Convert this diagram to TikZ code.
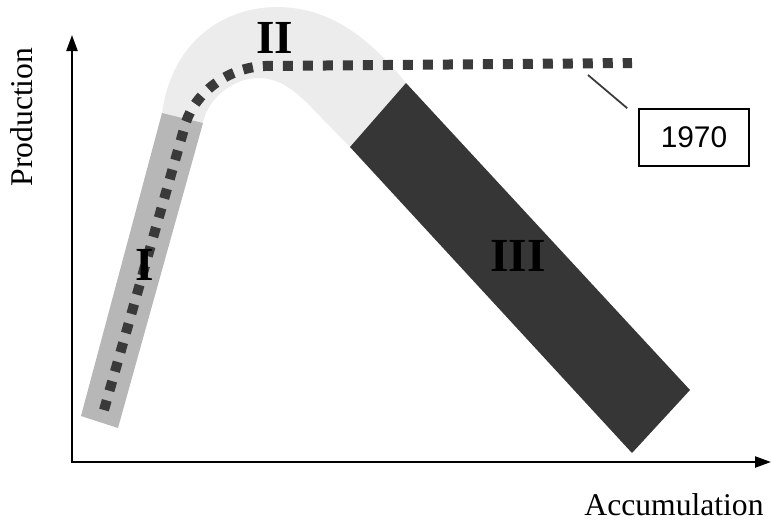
\documentclass[tikz,border=0pt]{standalone}
\usepackage{fontspec}
\setmainfont{Liberation Serif}
\newfontfamily\boxfont{Liberation Sans}
\usetikzlibrary{arrows.meta, positioning}

\definecolor{bandgray}{HTML}{ECECEC}
\definecolor{risegray}{HTML}{B7B7B7}
\definecolor{falldark}{HTML}{363636}
\definecolor{dotdark}{HTML}{3A3A3A}

\begin{document}
\begin{tikzpicture}[
  x=0.02cm, y=-0.02cm,
  axis/.style={line width=1.3pt, {Triangle[length=0.32cm,width=0.22cm]}-{Triangle[length=0.32cm,width=0.22cm]}},
  phase/.style={font=\fontsize{27}{30}\selectfont\bfseries},
  axislabel/.style={font=\fontsize{18}{20}\selectfont},
  trend/.style={dotdark, line width=0.2cm, dash pattern=on 0.2cm off 0.2cm},
  yearbox/.style={draw, line width=0.9pt, minimum width=2.2cm, minimum height=1.14cm,
                  inner sep=0pt, font=\boxfont\fontsize{17}{19}\selectfont}
]
  \useasboundingbox (0,0) rectangle (771,522);

  % Phase II: bend at the top
  \fill[bandgray] (162,113) .. controls (172,40) and (225,7) .. (277,7)
    .. controls (335,7) and (375,45) .. (406,83)
    -- (350,147) -- (312,108) .. controls (290,85) and (275,78) .. (258,78)
    .. controls (232,78) and (207,100) .. (203,123) -- cycle;

  % Phase I: rising bar
  \fill[risegray] (81,416) -- (118,428) -- (203,123) -- (162,113) -- cycle;

  % Phase III: falling bar
  \fill[falldark] (350,147) -- (406,83) -- (690,390) -- (632,453) -- cycle;

  % Dotted trend
  \draw[trend] (104,410) -- (186,122) .. controls (195,95) and (225,68) .. (264,66)
    -- (632,63);

  % Axes
  \draw[axis] (72,35) -- (72,462) -- (771,462);
  \node[axislabel, rotate=90] (ylab) at (22,117) {Production};
  \node[axislabel] (xlab) at (674,505) {Accumulation};

  % Phase labels
  \node[phase] (one) at (145,265) {I};
  \node[phase] (two) at (275,38) {II};
  \node[phase] (three) at (518,256) {III};

  % Year callout
  \node[yearbox] (year) at (694,137.5) {1970};
  \coordinate (mark) at (588,75);
  \draw[line width=1pt, dotdark] (mark) -- ([xshift=-0.22cm]year.north west);
\end{tikzpicture}
\end{document}
